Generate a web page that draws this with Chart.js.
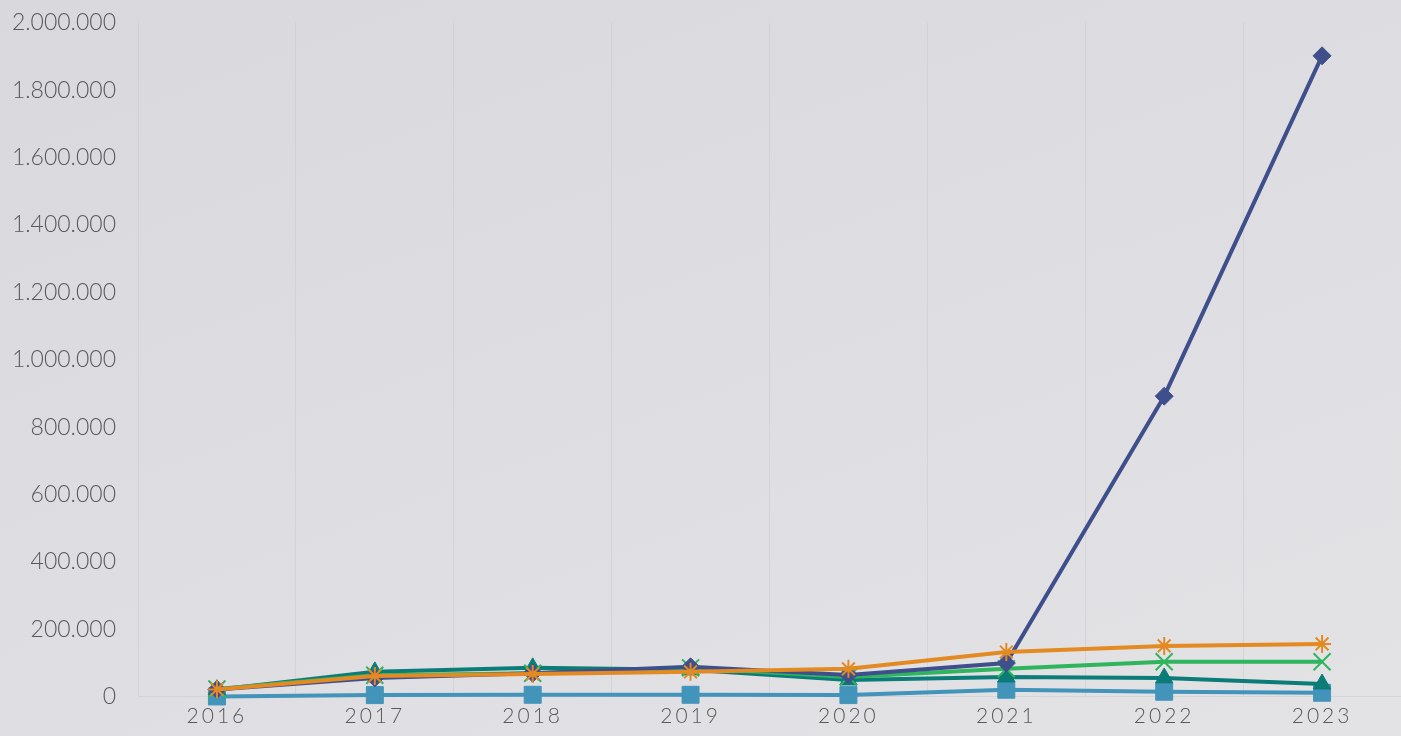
<!doctype html>
<html lang="en">
  <head>
    <meta charset="UTF-8" />
    <title>Chart</title>
    <script src="https://cdn.jsdelivr.net/npm/chart.js"></script>
    <style>
      html, body { margin: 0; padding: 0; }
      body {
        width: 1401px;
        height: 736px;
        overflow: hidden;
        background: linear-gradient(160deg, #d9d9dd 0%, #dedee2 50%, #e3e3e6 100%);
      }
      .chart-container { position: relative; width: 1401px; height: 736px; }
    </style>
  </head>
  <body>
    <div class="chart-container">
      <canvas id="lineChart"></canvas>
    </div>

    <script>
      const years = ['2016', '2017', '2018', '2019', '2020', '2021', '2022', '2023']
      const yTicks = [0, 200000, 400000, 600000, 800000, 1000000, 1200000, 1400000, 1600000, 1800000, 2000000]

      const navyValues = [22000, 56000, 70000, 89000, 65000, 100000, 892000, 1902000]
      const blueValues = [1000, 5000, 6000, 6000, 5000, 21000, 15000, 12000]
      const tealValues = [21000, 74000, 86000, 80000, 50000, 59000, 56000, 38000]
      const greenValues = [23000, 64000, 70000, 86000, 59000, 83000, 104000, 104000]
      const orangeValues = [22000, 62000, 68000, 74000, 83000, 133000, 151000, 157000]

      // 1234567 -> 1.234.567
      const fmt = (v) => String(v).replace(/\B(?=(\d{3})+(?!\d))/g, '.')

      // category axis with letter-spaced labels
      class SpacedCategory extends Chart.CategoryScale {
        drawLabels(area) {
          this.ctx.save()
          this.ctx.letterSpacing = '3px'
          super.drawLabels(area)
          this.ctx.restore()
        }
      }
      SpacedCategory.id = 'spacedCategory'
      SpacedCategory.defaults = Chart.CategoryScale.defaults

      // value axis whose labels sit a bit further left, without extra top padding
      class ShiftedLinear extends Chart.LinearScale {
        drawLabels(area) {
          this.ctx.save()
          this.ctx.translate(-5, 0)
          super.drawLabels(area)
          this.ctx.restore()
        }
      }
      ShiftedLinear.id = 'shiftedLinear'
      ShiftedLinear.defaults = Chart.LinearScale.defaults
      Chart.register(SpacedCategory, ShiftedLinear)

      function series(data, color, style, radius, order) {
        return {
          data,
          borderColor: color,
          backgroundColor: color,
          borderWidth: 4,
          tension: 0,
          clip: false,
          pointStyle: style,
          pointRadius: radius,
          pointBorderWidth: style === 'star' || style === 'crossRot' ? 2 : 1,
          order,
        }
      }

      new Chart(document.getElementById('lineChart'), {
        type: 'line',
        data: {
          labels: years,
          datasets: [
            series(blueValues, '#4394ba', 'rect', 12, 5),
            series(tealValues, '#0c7c78', 'triangle', 10, 4),
            series(greenValues, '#2eb55e', 'crossRot', 12, 3),
            series(navyValues, '#3f4f8c', 'rectRot', 9, 2),
            series(orangeValues, '#e38a23', 'star', 9, 1),
          ],
        },
        options: {
          responsive: true,
          maintainAspectRatio: false,
          animation: false,
          layout: { autoPadding: false, padding: 0 },
          scales: {
            x: {
              type: 'spacedCategory',
              offset: true,
              grid: {
                offset: true,
                color: 'rgba(190,190,195,0.35)',
                drawTicks: false,
              },
              border: { display: true, color: 'rgba(190,190,195,0.35)' },
              ticks: {
                color: '#595959',
                padding: 7,
                font: { family: 'Lato', size: 21, weight: 300 },
              },
            },
            y: {
              type: 'shiftedLinear',
              min: 0,
              max: 2000000,
              afterBuildTicks: (scale) => {
                scale.ticks = yTicks.map((v) => ({ value: v }))
              },
              afterFit: (scale) => {
                scale.width = 138
              },
              grid: { display: false },
              border: { display: false },
              ticks: {
                color: '#595959',
                padding: 9,
                font: { family: 'Lato', size: 23, weight: 300 },
                callback: (v) => fmt(v),
              },
            },
          },
          plugins: {
            legend: { display: false },
            tooltip: { enabled: false },
          },
        },
      })
    </script>
  </body>
</html>
